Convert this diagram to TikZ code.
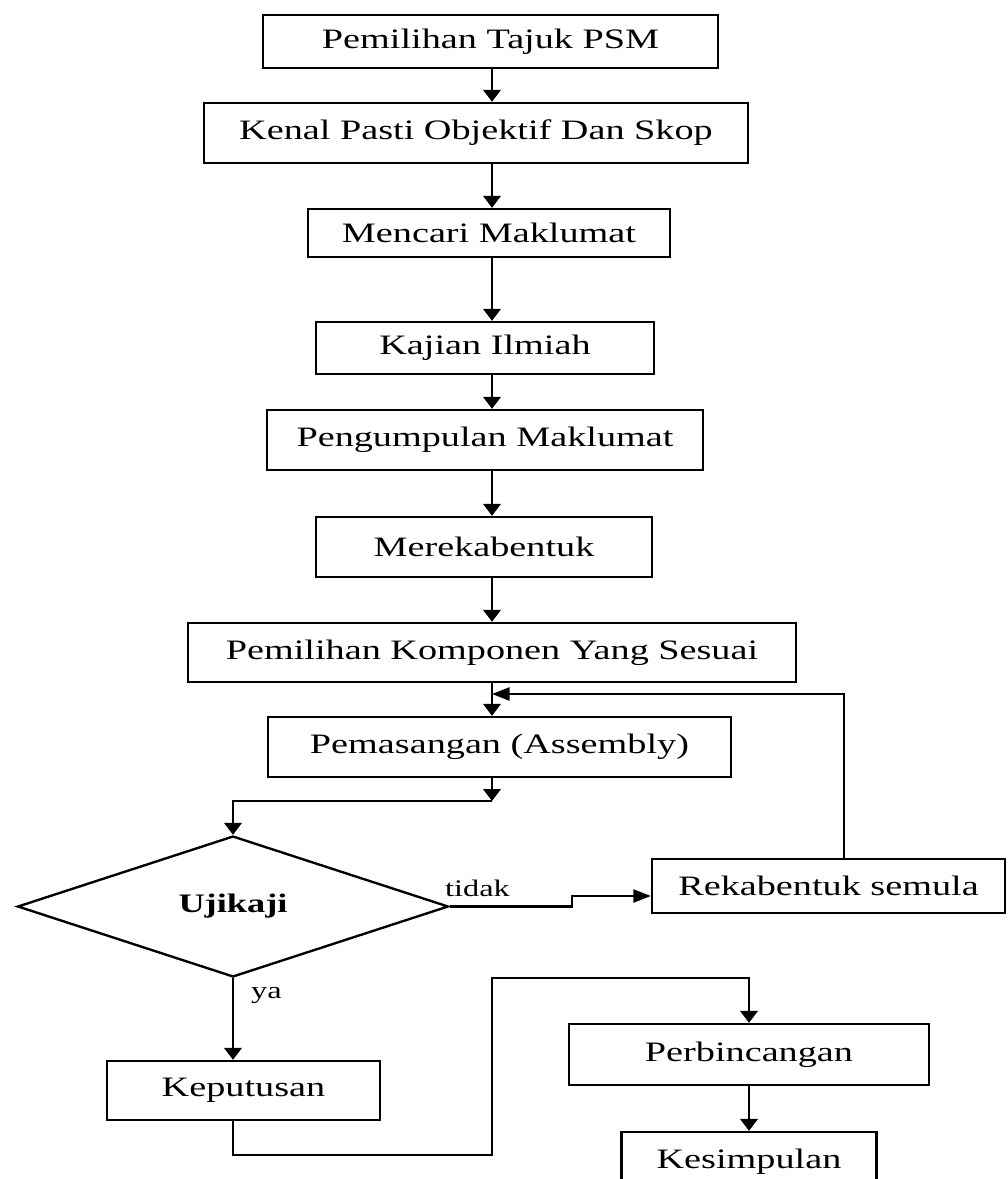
\documentclass[tikz,border=0pt]{standalone}
\usepackage{fontspec}
\setmainfont{Liberation Serif}[FakeStretch=1.36]
\usetikzlibrary{arrows.meta,positioning,shapes.geometric}

\begin{document}
\begin{tikzpicture}[x=0.02cm,y=-0.02cm,line width=1.35pt,
  font=\fontsize{16}{19}\selectfont,
  kotak/.style={draw,inner sep=0pt},
  arr/.style={-{Triangle[length=2.4mm,width=3.5mm]}},
  harr/.style={-{Triangle[length=3.5mm,width=2.6mm]}},
  lbl/.style={font=\fontsize{13.5}{16}\selectfont,inner sep=0pt}]
\path[use as bounding box] (0,0) rectangle (1007,1179);
\coordinate (axis) at (492,0);
% 主流程
\node[kotak,minimum width=9.10cm,minimum height=1.06cm] (b1) at (490.5,41.5) {Pemilihan Tajuk PSM};
\node[kotak,minimum width=10.88cm,minimum height=1.20cm] (b2) at (476,133) {Kenal Pasti Objektif Dan Skop};
\node[kotak,minimum width=7.24cm,minimum height=0.96cm] (b3) at (489,233) {Mencari Maklumat};
\node[kotak,minimum width=6.76cm,minimum height=1.04cm] (b4) at (485,348) {Kajian Ilmiah};
\node[kotak,minimum width=8.72cm,minimum height=1.20cm] (b5) at (485,440) {Pengumpulan Maklumat};
\node[kotak,minimum width=6.72cm,minimum height=1.20cm] (b6) at (484,547) {Merekabentuk};
\node[kotak,minimum width=12.16cm,minimum height=1.18cm] (b7) at (492,652.5) {Pemilihan Komponen Yang Sesuai};
\node[kotak,minimum width=9.26cm,minimum height=1.20cm] (b8) at (499.5,747) {Pemasangan (Assembly)};
\foreach \a/\b in {b1/b2,b2/b3,b3/b4,b4/b5,b5/b6,b6/b7,b7/b8}
  \draw[arr] (\a.south -| axis) -- (\b.north -| axis);
% 判断
\node[kotak,diamond,minimum width=8.62cm,minimum height=2.82cm,
  font=\bfseries\fontsize{15.2}{18}\selectfont] (uji) at (233,906.5) {Ujikaji};
\coordinate (elbow) at (492,801);
\draw[arr] (b8.south -| axis) -- (elbow);
\draw[arr] (elbow) -| (uji.north);
% 不通过：重新设计
\node[kotak,minimum width=7.06cm,minimum height=1.08cm] (rek) at (828.5,886) {Rekabentuk semula};
\coordinate (naik) at (572,896);
\draw[harr] (uji.east) -| (naik) -- (naik -| rek.west);
\node[lbl,anchor=base west] (tidak) at (444,896) {tidak};
\coordinate (fb) at (844,694);
\draw[harr] (rek.north -| fb) -- (fb) -- (fb -| axis);
% 通过
\node[kotak,minimum width=5.46cm,minimum height=1.18cm] (kep) at (243.5,1090.5) {Keputusan};
\node[lbl,anchor=west] (ya) at (250,995) {ya};
\draw[arr] (uji.south) -- (uji.south |- kep.north);
\node[kotak,minimum width=7.20cm,minimum height=1.22cm] (perb) at (749,1054.5) {Perbincangan};
\node[kotak,minimum width=5.10cm,minimum height=1.20cm] (kes) at (749,1162) {Kesimpulan};
\coordinate (bawah) at (492,1155);
\coordinate (atas) at (492,978);
\draw[arr] (uji.south |- kep.south) |- (bawah) -- (atas) -| (perb.north);
\draw[arr] (perb.south) -- (kes.north);
\end{tikzpicture}
\end{document}
